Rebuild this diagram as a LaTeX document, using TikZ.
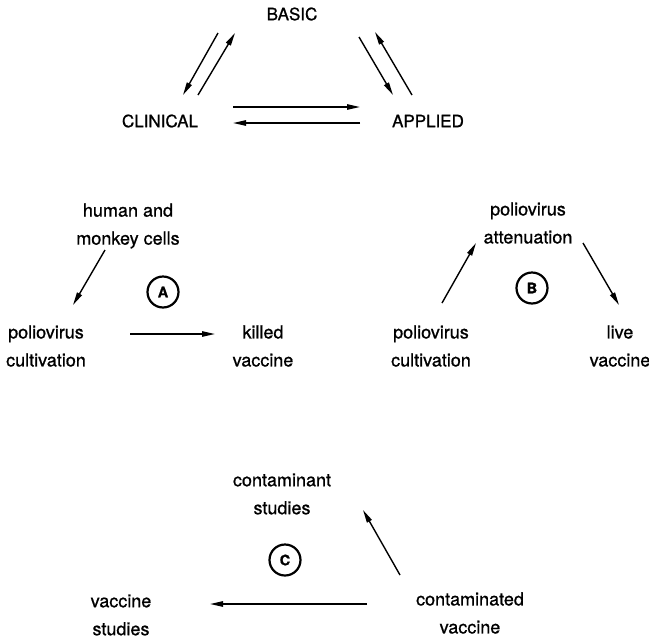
\documentclass[tikz,border=0pt]{standalone}
\usepackage{fontspec}
\setmainfont{TeX Gyre Heros}[RawFeature={embolden=0.9}]
\usetikzlibrary{positioning, arrows.meta, calc}

\begin{document}
\begin{tikzpicture}[x=1pt, y=-1pt,
    lbl/.style={align=center, inner sep=0pt, font=\fontsize{18}{28}\selectfont},
    caps/.style={lbl, font=\fontsize{17}{28}\selectfont},
    arr/.style={line width=1.4pt, -{Triangle[length=13pt, width=5.4pt]}},
    tag/.style={circle, draw, line width=2.2pt, minimum size=31pt, inner sep=0pt,
                font=\fontsize{14.5}{14.5}\selectfont\bfseries}]
  \useasboundingbox (0,0) rectangle (649,638);

  % research triangle
  \node[caps] (basic) at (292,14) {BASIC};
  \node[caps] (clinical) at (160,121) {CLINICAL};
  \node[caps] (applied) at (428,121) {APPLIED};
  \coordinate (bc1) at (218,33);  \coordinate (bc2) at (183,95);
  \coordinate (cb1) at (198,95);  \coordinate (cb2) at (235,33);
  \coordinate (ba1) at (359,37);  \coordinate (ba2) at (393,95);
  \coordinate (ab1) at (412,95);  \coordinate (ab2) at (375,32);
  \coordinate (ca1) at (233,107); \coordinate (ca2) at (360,107);
  \coordinate (ac1) at (360,123); \coordinate (ac2) at (233,123);
  \foreach \s/\t in {bc1/bc2, cb1/cb2, ba1/ba2, ab1/ab2, ca1/ca2, ac1/ac2}
    \draw[arr] (\s) -- (\t);

  % A: killed vaccine
  \node[lbl] (cellsA) at (128,226) {human and\\monkey cells};
  \node[lbl] (cultA) at (46,346) {poliovirus\\cultivation};
  \node[lbl] (killed) at (263,346) {killed\\vaccine};
  \node[tag] (tagA) at (163,292) {A};
  \coordinate (a1) at (105,250); \coordinate (a2) at (73,305);
  \coordinate (a3) at (130,334); \coordinate (a4) at (215,334);
  \draw[arr] (a1) -- (a2);
  \draw[arr] (a3) -- (a4);

  % B: live vaccine
  \node[lbl] (atten) at (528,223) {poliovirus\\attenuation};
  \node[lbl] (cultB) at (431,346) {poliovirus\\cultivation};
  \node[lbl] (live) at (620,346) {live\\vaccine};
  \node[tag] (tagB) at (532,288) {B};
  \coordinate (b1) at (442,303); \coordinate (b2) at (476,243);
  \coordinate (b3) at (583,243); \coordinate (b4) at (619,305);
  \draw[arr] (b1) -- (b2);
  \draw[arr] (b3) -- (b4);

  % C: contaminated vaccine
  \node[lbl] (contam) at (282,494) {contaminant\\studies};
  \node[lbl] (vstud) at (121,615) {vaccine\\studies};
  \node[lbl] (cvacc) at (470,613) {contaminated\\vaccine};
  \node[tag] (tagC) at (285,560) {C};
  \coordinate (c1) at (400,575); \coordinate (c2) at (363,510);
  \coordinate (c3) at (367,604); \coordinate (c4) at (210,604);
  \draw[arr] (c1) -- (c2);
  \draw[arr] (c3) -- (c4);
\end{tikzpicture}
\end{document}
